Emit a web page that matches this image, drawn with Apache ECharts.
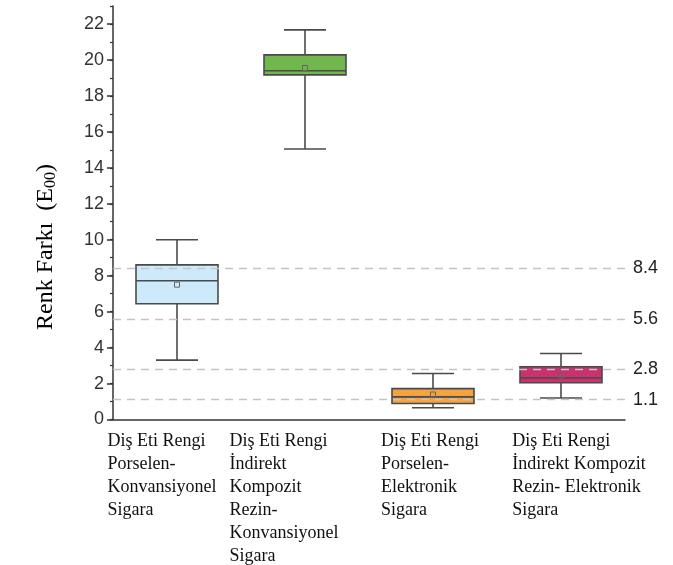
<!DOCTYPE html>
<html>
<head>
<meta charset="utf-8">
<script src="https://cdn.jsdelivr.net/npm/echarts@6/dist/echarts.min.js"></script>
<style>
  html, body { margin: 0; padding: 0; background: #fff; }
  #chart { width: 673px; height: 565px; }
</style>
</head>
<body>
<div id="chart"></div>
<script>
// kutu grafiği verileri
const categories = [
  'Diş Eti Rengi\nPorselen-\nKonvansiyonel\nSigara',
  'Diş Eti Rengi\nİndirekt\nKompozit\nRezin-\nKonvansiyonel\nSigara',
  'Diş Eti Rengi\nPorselen-\nElektronik\nSigara',
  'Diş Eti Rengi\nİndirekt Kompozit\nRezin- Elektronik\nSigara'
]
const whiskerLow = [3.3, 15.05, 0.65, 1.2]
const q1 = [6.44, 19.17, 0.89, 2.04]
const median = [7.72, 19.4, 1.26, 2.31]
const q3 = [8.6, 20.28, 1.72, 2.93]
const whiskerHigh = [10.0, 21.67, 2.56, 3.67]
const mean = [7.5, 19.55, 1.39, 2.45]
const refLines = [8.4, 5.6, 2.8, 1.1]
const yTicks = [0, 2, 4, 6, 8, 10, 12, 14, 16, 18, 20, 22]

const BOX_COLORS = ['#cdeafb', '#72b64e', '#f3a441', '#c8326e']
const EDGE = '#4a4a4a'
const BOX_W = 82
const CAP_W = 42
const SANS = 'Liberation Sans, Arial, sans-serif'
const SERIF = 'Liberation Serif, Times New Roman, serif'
// etiket bloklarının yatay kaydırması (px), orijinaldeki gibi
const LABEL_SHIFT = [-15, -21, -3, 18]

const boxData = categories.map((c, i) => [i, whiskerLow[i], q1[i], median[i], q3[i], whiskerHigh[i], mean[i]])

const labelRich = {}
LABEL_SHIFT.forEach((d, i) => {
  labelRich['t' + i] = {
    align: 'left',
    fontFamily: SERIF,
    fontSize: 18,
    lineHeight: 23,
    color: '#111',
    padding: d > 0 ? [0, 0, 0, 2 * d] : [0, -2 * d, 0, 0]
  }
})

function renderBox(params, api) {
  const i = api.value(0)
  const lo = api.coord([i, api.value(1)])
  const b1 = api.coord([i, api.value(2)])
  const md = api.coord([i, api.value(3)])
  const b3 = api.coord([i, api.value(4)])
  const hi = api.coord([i, api.value(5)])
  const mn = api.coord([i, api.value(6)])
  const cx = lo[0]
  const line = { stroke: EDGE, lineWidth: 1.6 }
  return {
    type: 'group',
    children: [
      { type: 'line', shape: { x1: cx, y1: hi[1], x2: cx, y2: b3[1] }, style: line },
      { type: 'line', shape: { x1: cx, y1: b1[1], x2: cx, y2: lo[1] }, style: line },
      { type: 'line', shape: { x1: cx - CAP_W / 2, y1: hi[1], x2: cx + CAP_W / 2, y2: hi[1] }, style: line },
      { type: 'line', shape: { x1: cx - CAP_W / 2, y1: lo[1], x2: cx + CAP_W / 2, y2: lo[1] }, style: line },
      {
        type: 'rect',
        shape: { x: cx - BOX_W / 2, y: b3[1], width: BOX_W, height: b1[1] - b3[1] },
        style: { fill: BOX_COLORS[params.dataIndex], stroke: EDGE, lineWidth: 1.6 }
      },
      { type: 'line', shape: { x1: cx - BOX_W / 2, y1: md[1], x2: cx + BOX_W / 2, y2: md[1] }, style: line },
      {
        type: 'rect',
        shape: { x: cx - 2.5, y: mn[1] - 2.5, width: 5, height: 5 },
        style: { fill: 'none', stroke: '#666', lineWidth: 1 }
      }
    ]
  }
}

const chart = echarts.init(document.getElementById('chart'), null, { renderer: 'canvas' })

chart.setOption({
  backgroundColor: '#fff',
  animation: false,
  grid: { left: 113, right: 48, top: 6, bottom: 145 },
  xAxis: {
    type: 'category',
    data: categories,
    boundaryGap: true,
    axisLine: { lineStyle: { color: '#333', width: 1.5 } },
    axisTick: { alignWithLabel: true, length: 6, lineStyle: { color: '#333', width: 1.5 } },
    axisLabel: {
      margin: 10,
      interval: 0,
      formatter: (v, idx) => v.split('\n').map((l) => '{t' + idx + '|' + l + '}').join('\n'),
      rich: labelRich
    },
    splitLine: { show: false }
  },
  yAxis: [
    {
      type: 'value',
      min: 0,
      max: 23,
      interval: 2,
      position: 'left',
      axisLine: { show: true, lineStyle: { color: '#333', width: 1.5 } },
      axisTick: { show: true, length: 6, customValues: yTicks, lineStyle: { color: '#333', width: 1.5 } },
      axisLabel: { customValues: yTicks, fontFamily: SANS, fontSize: 18, color: '#333', margin: 9 },
      splitLine: { show: false }
    },
    {
      type: 'value',
      min: 0,
      max: 23,
      interval: 1,
      position: 'left',
      axisLine: { show: false },
      axisTick: { show: true, length: 3, lineStyle: { color: '#333', width: 1.2 } },
      axisLabel: { show: false },
      splitLine: { show: false }
    }
  ],
  graphic: [
    {
      type: 'text',
      x: 46,
      y: 247,
      rotation: Math.PI / 2,
      style: {
        text: '{a|Renk Farkı  (E}{s|00}{a|)}',
        align: 'center',
        verticalAlign: 'middle',
        rich: {
          a: { fontFamily: SERIF, fontSize: 24, color: '#222' },
          s: { fontFamily: SERIF, fontSize: 16, color: '#222', padding: [10, 0, 0, 0] }
        }
      }
    }
  ],
  series: [
    {
      type: 'custom',
      renderItem: renderBox,
      encode: { x: 0, y: [1, 2, 3, 4, 5, 6] },
      data: boxData,
      markLine: {
        silent: true,
        symbol: 'none',
        lineStyle: { color: '#c4c4c4', type: [8, 6], width: 1.3 },
        label: { position: 'end', formatter: '{c}', fontFamily: SANS, fontSize: 18, color: '#222', distance: 8 },
        data: refLines.map((v) => ({ yAxis: v }))
      }
    }
  ]
})
</script>
</body>
</html>
